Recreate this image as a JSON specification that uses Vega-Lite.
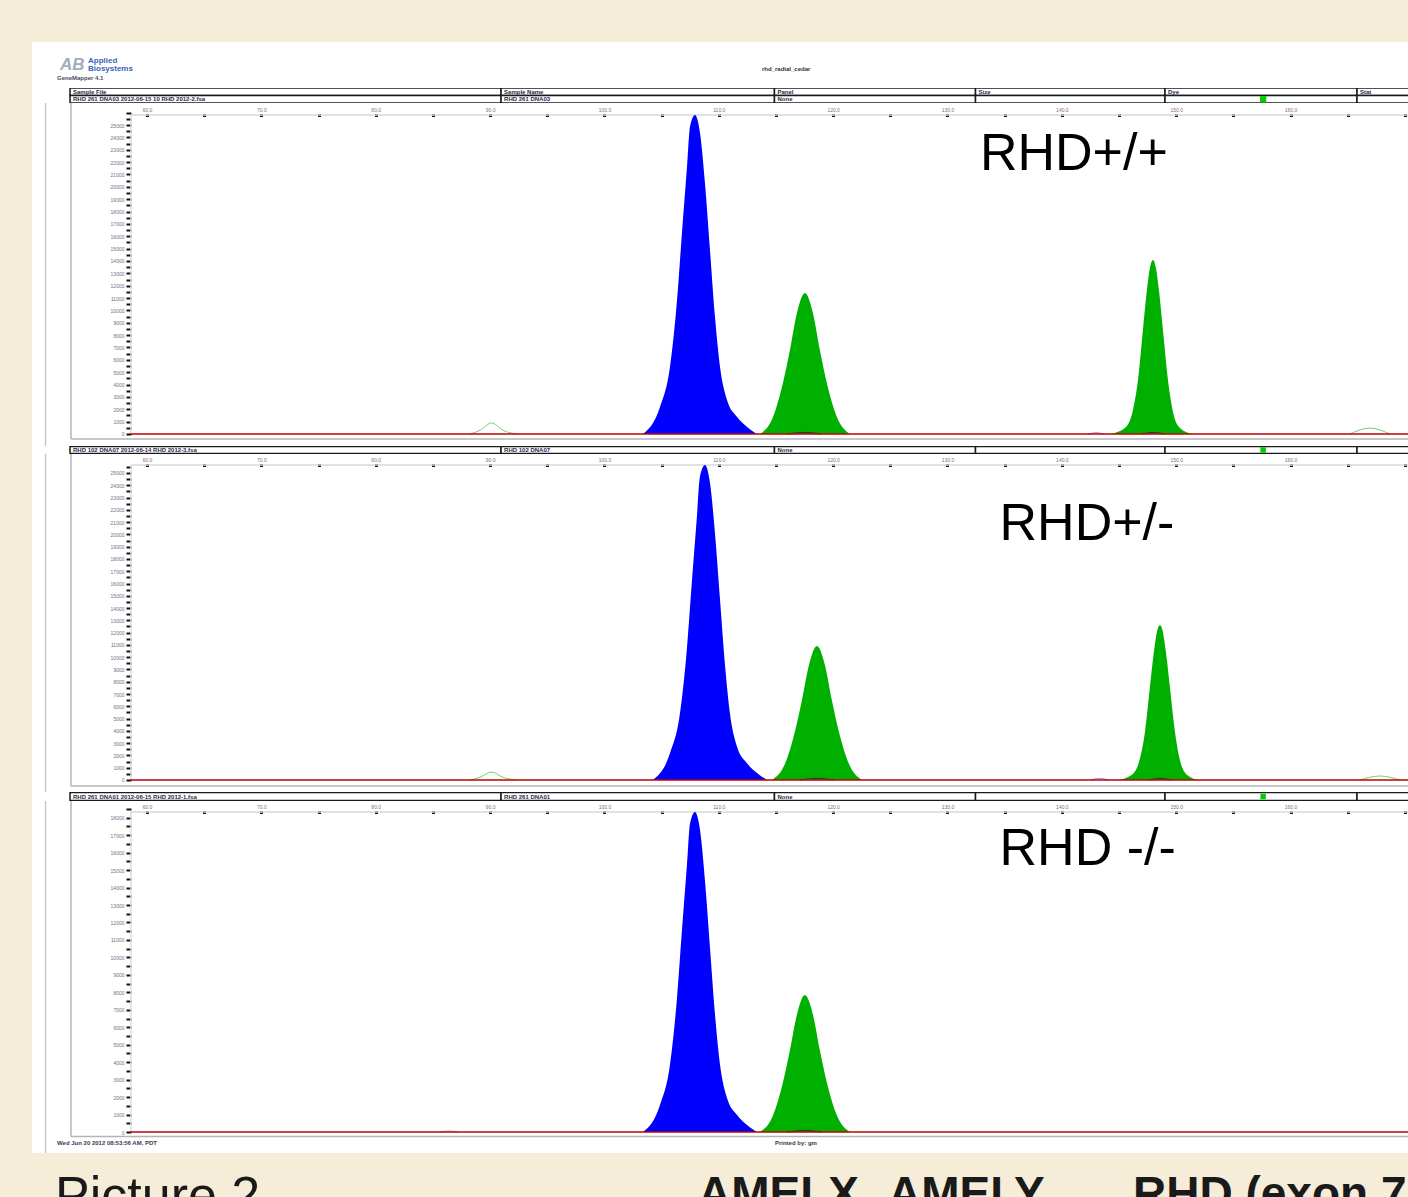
{
  "$schema": "https://vega.github.io/schema/vega-lite/v6.json",
  "background": "#F5EDD8",
  "padding": {"left": 32, "top": 42, "right": 0, "bottom": 0},
  "spacing": 0,
  "bounds": "flush",
  "config": {
    "view": {"stroke": null, "fill": "white"},
    "font": "Liberation Sans",
    "axis": {"labelFont": "Liberation Sans", "grid": false, "title": null}
  },
  "datasets": {
    "p1": [
      {"pk": "b", "dye": "blue", "bp": 103.37, "rfu": 0},
      {"pk": "b", "dye": "blue", "bp": 104.86, "rfu": 2184},
      {"pk": "b", "dye": "blue", "bp": 105.73, "rfu": 5420},
      {"pk": "b", "dye": "blue", "bp": 106.35, "rfu": 10840},
      {"pk": "b", "dye": "blue", "bp": 106.78, "rfu": 16260},
      {"pk": "b", "dye": "blue", "bp": 107.22, "rfu": 21600},
      {"pk": "b", "dye": "blue", "bp": 107.48, "rfu": 24836},
      {"pk": "b", "dye": "blue", "bp": 107.92, "rfu": 25807},
      {"pk": "b", "dye": "blue", "bp": 108.36, "rfu": 24350},
      {"pk": "b", "dye": "blue", "bp": 108.79, "rfu": 20306},
      {"pk": "b", "dye": "blue", "bp": 109.23, "rfu": 14886},
      {"pk": "b", "dye": "blue", "bp": 109.67, "rfu": 9465},
      {"pk": "b", "dye": "blue", "bp": 110.11, "rfu": 5420},
      {"pk": "b", "dye": "blue", "bp": 110.72, "rfu": 2750},
      {"pk": "b", "dye": "blue", "bp": 111.60, "rfu": 1375},
      {"pk": "b", "dye": "blue", "bp": 112.47, "rfu": 566},
      {"pk": "b", "dye": "blue", "bp": 113.34, "rfu": 0},
      {"pk": "g1", "dye": "green", "bp": 113.60, "rfu": 0},
      {"pk": "g1", "dye": "green", "bp": 114.74, "rfu": 1375},
      {"pk": "g1", "dye": "green", "bp": 115.61, "rfu": 4126},
      {"pk": "g1", "dye": "green", "bp": 116.22, "rfu": 6796},
      {"pk": "g1", "dye": "green", "bp": 116.84, "rfu": 9789},
      {"pk": "g1", "dye": "green", "bp": 117.53, "rfu": 11407},
      {"pk": "g1", "dye": "green", "bp": 118.23, "rfu": 9789},
      {"pk": "g1", "dye": "green", "bp": 118.84, "rfu": 6796},
      {"pk": "g1", "dye": "green", "bp": 119.45, "rfu": 4126},
      {"pk": "g1", "dye": "green", "bp": 120.33, "rfu": 1375},
      {"pk": "g1", "dye": "green", "bp": 121.46, "rfu": 0},
      {"pk": "g2", "dye": "green", "bp": 144.21, "rfu": 0},
      {"pk": "g2", "dye": "green", "bp": 145.52, "rfu": 485},
      {"pk": "g2", "dye": "green", "bp": 146.22, "rfu": 1942},
      {"pk": "g2", "dye": "green", "bp": 146.66, "rfu": 4369},
      {"pk": "g2", "dye": "green", "bp": 147.09, "rfu": 8414},
      {"pk": "g2", "dye": "green", "bp": 147.44, "rfu": 11650},
      {"pk": "g2", "dye": "green", "bp": 147.70, "rfu": 13430},
      {"pk": "g2", "dye": "green", "bp": 147.97, "rfu": 14077},
      {"pk": "g2", "dye": "green", "bp": 148.23, "rfu": 13430},
      {"pk": "g2", "dye": "green", "bp": 148.49, "rfu": 11650},
      {"pk": "g2", "dye": "green", "bp": 148.84, "rfu": 8414},
      {"pk": "g2", "dye": "green", "bp": 149.28, "rfu": 4369},
      {"pk": "g2", "dye": "green", "bp": 149.72, "rfu": 1780},
      {"pk": "g2", "dye": "green", "bp": 150.33, "rfu": 485},
      {"pk": "g2", "dye": "green", "bp": 151.38, "rfu": 0}
    ],
    "b1": [
      {"pk": "t1", "dye": "lgreen", "bp": 88.24, "rfu": 0},
      {"pk": "t1", "dye": "lgreen", "bp": 89.12, "rfu": 300},
      {"pk": "t1", "dye": "lgreen", "bp": 90.14, "rfu": 900},
      {"pk": "t1", "dye": "lgreen", "bp": 91.13, "rfu": 300},
      {"pk": "t1", "dye": "lgreen", "bp": 92.35, "rfu": 0},
      {"pk": "t2", "dye": "lgreen", "bp": 165.19, "rfu": 0},
      {"pk": "t2", "dye": "lgreen", "bp": 166.94, "rfu": 480},
      {"pk": "t2", "dye": "lgreen", "bp": 168.69, "rfu": 0},
      {"pk": "t3", "dye": "lblue", "bp": 142.3, "rfu": 0},
      {"pk": "t3", "dye": "lblue", "bp": 143.0, "rfu": 100},
      {"pk": "t3", "dye": "lblue", "bp": 143.7, "rfu": 0},
      {"pk": "t4", "dye": "black", "bp": 116.0, "rfu": 0},
      {"pk": "t4", "dye": "black", "bp": 117.53, "rfu": 130},
      {"pk": "t4", "dye": "black", "bp": 119.0, "rfu": 0},
      {"pk": "t5", "dye": "black", "bp": 147.0, "rfu": 0},
      {"pk": "t5", "dye": "black", "bp": 147.97, "rfu": 130},
      {"pk": "t5", "dye": "black", "bp": 149.0, "rfu": 0}
    ],
    "p2": [
      {"pk": "b", "dye": "blue", "bp": 104.24, "rfu": 0},
      {"pk": "b", "dye": "blue", "bp": 105.73, "rfu": 2171},
      {"pk": "b", "dye": "blue", "bp": 106.60, "rfu": 5387},
      {"pk": "b", "dye": "blue", "bp": 107.22, "rfu": 10774},
      {"pk": "b", "dye": "blue", "bp": 107.65, "rfu": 16161},
      {"pk": "b", "dye": "blue", "bp": 108.09, "rfu": 21468},
      {"pk": "b", "dye": "blue", "bp": 108.35, "rfu": 24685},
      {"pk": "b", "dye": "blue", "bp": 108.79, "rfu": 25650},
      {"pk": "b", "dye": "blue", "bp": 109.23, "rfu": 24202},
      {"pk": "b", "dye": "blue", "bp": 109.66, "rfu": 20182},
      {"pk": "b", "dye": "blue", "bp": 110.10, "rfu": 14795},
      {"pk": "b", "dye": "blue", "bp": 110.54, "rfu": 9407},
      {"pk": "b", "dye": "blue", "bp": 110.98, "rfu": 5387},
      {"pk": "b", "dye": "blue", "bp": 111.59, "rfu": 2733},
      {"pk": "b", "dye": "blue", "bp": 112.47, "rfu": 1367},
      {"pk": "b", "dye": "blue", "bp": 113.34, "rfu": 563},
      {"pk": "b", "dye": "blue", "bp": 114.21, "rfu": 0},
      {"pk": "g1", "dye": "green", "bp": 114.65, "rfu": 0},
      {"pk": "g1", "dye": "green", "bp": 115.79, "rfu": 1315},
      {"pk": "g1", "dye": "green", "bp": 116.66, "rfu": 3947},
      {"pk": "g1", "dye": "green", "bp": 117.27, "rfu": 6501},
      {"pk": "g1", "dye": "green", "bp": 117.89, "rfu": 9364},
      {"pk": "g1", "dye": "green", "bp": 118.58, "rfu": 10912},
      {"pk": "g1", "dye": "green", "bp": 119.28, "rfu": 9364},
      {"pk": "g1", "dye": "green", "bp": 119.89, "rfu": 6501},
      {"pk": "g1", "dye": "green", "bp": 120.50, "rfu": 3947},
      {"pk": "g1", "dye": "green", "bp": 121.38, "rfu": 1315},
      {"pk": "g1", "dye": "green", "bp": 122.51, "rfu": 0},
      {"pk": "g2", "dye": "green", "bp": 144.82, "rfu": 0},
      {"pk": "g2", "dye": "green", "bp": 146.13, "rfu": 435},
      {"pk": "g2", "dye": "green", "bp": 146.83, "rfu": 1741},
      {"pk": "g2", "dye": "green", "bp": 147.27, "rfu": 3917},
      {"pk": "g2", "dye": "green", "bp": 147.70, "rfu": 7544},
      {"pk": "g2", "dye": "green", "bp": 148.05, "rfu": 10445},
      {"pk": "g2", "dye": "green", "bp": 148.31, "rfu": 12041},
      {"pk": "g2", "dye": "green", "bp": 148.58, "rfu": 12622},
      {"pk": "g2", "dye": "green", "bp": 148.84, "rfu": 12041},
      {"pk": "g2", "dye": "green", "bp": 149.10, "rfu": 10445},
      {"pk": "g2", "dye": "green", "bp": 149.45, "rfu": 7544},
      {"pk": "g2", "dye": "green", "bp": 149.89, "rfu": 3917},
      {"pk": "g2", "dye": "green", "bp": 150.33, "rfu": 1596},
      {"pk": "g2", "dye": "green", "bp": 150.94, "rfu": 435},
      {"pk": "g2", "dye": "green", "bp": 151.99, "rfu": 0}
    ],
    "b2": [
      {"pk": "t1", "dye": "lgreen", "bp": 88.24, "rfu": 0},
      {"pk": "t1", "dye": "lgreen", "bp": 89.12, "rfu": 220},
      {"pk": "t1", "dye": "lgreen", "bp": 90.14, "rfu": 650},
      {"pk": "t1", "dye": "lgreen", "bp": 91.13, "rfu": 220},
      {"pk": "t1", "dye": "lgreen", "bp": 92.35, "rfu": 0},
      {"pk": "t2", "dye": "lgreen", "bp": 166.06, "rfu": 0},
      {"pk": "t2", "dye": "lgreen", "bp": 167.81, "rfu": 325},
      {"pk": "t2", "dye": "lgreen", "bp": 169.56, "rfu": 0},
      {"pk": "t3", "dye": "lblue", "bp": 142.5, "rfu": 0},
      {"pk": "t3", "dye": "lblue", "bp": 143.3, "rfu": 120},
      {"pk": "t3", "dye": "lblue", "bp": 144.1, "rfu": 0},
      {"pk": "t4", "dye": "black", "bp": 117.1, "rfu": 0},
      {"pk": "t4", "dye": "black", "bp": 118.58, "rfu": 130},
      {"pk": "t4", "dye": "black", "bp": 120.0, "rfu": 0},
      {"pk": "t5", "dye": "black", "bp": 147.6, "rfu": 0},
      {"pk": "t5", "dye": "black", "bp": 148.58, "rfu": 130},
      {"pk": "t5", "dye": "black", "bp": 149.6, "rfu": 0}
    ],
    "p3": [
      {"pk": "b", "dye": "blue", "bp": 103.37, "rfu": 0},
      {"pk": "b", "dye": "blue", "bp": 104.86, "rfu": 1551},
      {"pk": "b", "dye": "blue", "bp": 105.73, "rfu": 3849},
      {"pk": "b", "dye": "blue", "bp": 106.35, "rfu": 7698},
      {"pk": "b", "dye": "blue", "bp": 106.78, "rfu": 11547},
      {"pk": "b", "dye": "blue", "bp": 107.22, "rfu": 15339},
      {"pk": "b", "dye": "blue", "bp": 107.48, "rfu": 17637},
      {"pk": "b", "dye": "blue", "bp": 107.92, "rfu": 18326},
      {"pk": "b", "dye": "blue", "bp": 108.36, "rfu": 17292},
      {"pk": "b", "dye": "blue", "bp": 108.79, "rfu": 14420},
      {"pk": "b", "dye": "blue", "bp": 109.23, "rfu": 10571},
      {"pk": "b", "dye": "blue", "bp": 109.67, "rfu": 6722},
      {"pk": "b", "dye": "blue", "bp": 110.11, "rfu": 3849},
      {"pk": "b", "dye": "blue", "bp": 110.72, "rfu": 1953},
      {"pk": "b", "dye": "blue", "bp": 111.60, "rfu": 977},
      {"pk": "b", "dye": "blue", "bp": 112.47, "rfu": 402},
      {"pk": "b", "dye": "blue", "bp": 113.34, "rfu": 0},
      {"pk": "g1", "dye": "green", "bp": 113.60, "rfu": 0},
      {"pk": "g1", "dye": "green", "bp": 114.74, "rfu": 946},
      {"pk": "g1", "dye": "green", "bp": 115.61, "rfu": 2838},
      {"pk": "g1", "dye": "green", "bp": 116.22, "rfu": 4675},
      {"pk": "g1", "dye": "green", "bp": 116.84, "rfu": 6734},
      {"pk": "g1", "dye": "green", "bp": 117.53, "rfu": 7846},
      {"pk": "g1", "dye": "green", "bp": 118.23, "rfu": 6734},
      {"pk": "g1", "dye": "green", "bp": 118.84, "rfu": 4675},
      {"pk": "g1", "dye": "green", "bp": 119.45, "rfu": 2838},
      {"pk": "g1", "dye": "green", "bp": 120.33, "rfu": 946},
      {"pk": "g1", "dye": "green", "bp": 121.46, "rfu": 0}
    ],
    "b3": [
      {"pk": "t1", "dye": "gray", "bp": 85.6, "rfu": 0},
      {"pk": "t1", "dye": "gray", "bp": 86.4, "rfu": 60},
      {"pk": "t1", "dye": "gray", "bp": 87.2, "rfu": 0},
      {"pk": "t4", "dye": "black", "bp": 116.0, "rfu": 0},
      {"pk": "t4", "dye": "black", "bp": 117.53, "rfu": 90},
      {"pk": "t4", "dye": "black", "bp": 119.0, "rfu": 0}
    ],
    "h1": [
      {"row": "label", "start": 53.27, "end": 90.96, "t": "Sample File"},
      {"row": "label", "start": 90.96, "end": 114.87, "t": "Sample Name"},
      {"row": "label", "start": 114.87, "end": 132.45, "t": "Panel"},
      {"row": "label", "start": 132.45, "end": 149.02, "t": "Size"},
      {"row": "label", "start": 149.02, "end": 165.81, "t": "Dye"},
      {"row": "label", "start": 165.81, "end": 172, "t": "Stat"},
      {"row": "value", "start": 53.27, "end": 90.96, "t": "RHD 261 DNA03 2012-06-15 10 RHD 2012-2.fsa"},
      {"row": "value", "start": 90.96, "end": 114.87, "t": "RHD 261 DNA03"},
      {"row": "value", "start": 114.87, "end": 132.45, "t": "None"},
      {"row": "value", "start": 132.45, "end": 149.02, "t": ""},
      {"row": "value", "start": 149.02, "end": 165.81, "t": ""},
      {"row": "value", "start": 165.81, "end": 172, "t": ""}
    ],
    "h2": [
      {"row": "value", "start": 53.27, "end": 90.96, "t": "RHD 102 DNA07 2012-06-14 RHD 2012-3.fsa"},
      {"row": "value", "start": 90.96, "end": 114.87, "t": "RHD 102 DNA07"},
      {"row": "value", "start": 114.87, "end": 132.45, "t": "None"},
      {"row": "value", "start": 132.45, "end": 149.02, "t": ""},
      {"row": "value", "start": 149.02, "end": 165.81, "t": ""},
      {"row": "value", "start": 165.81, "end": 172, "t": ""}
    ],
    "h3": [
      {"row": "value", "start": 53.27, "end": 90.96, "t": "RHD 261 DNA01 2012-06-15 RHD 2012-1.fsa"},
      {"row": "value", "start": 90.96, "end": 114.87, "t": "RHD 261 DNA01"},
      {"row": "value", "start": 114.87, "end": 132.45, "t": "None"},
      {"row": "value", "start": 132.45, "end": 149.02, "t": ""},
      {"row": "value", "start": 149.02, "end": 165.81, "t": ""},
      {"row": "value", "start": 165.81, "end": 172, "t": ""}
    ],
    "v1": [
      {"kind": "frame", "bp": 51.13, "rfu": -970.9, "rfu2": 26780},
      {"kind": "box", "bp": 53.35, "rfu": -405, "rfu2": 26780},
      {"kind": "yband", "bp": 58.6, "rfu": 0, "rfu2": 25809}
    ],
    "r1": [
      {"kind": "box", "bp": 53.35, "bp2": 172, "rfu": -405},
      {"kind": "xband", "bp": 58.6, "bp2": 172, "rfu": 25809}
    ],
    "v2": [
      {"kind": "frame", "bp": 51.13, "rfu": -977.2, "rfu2": 26547},
      {"kind": "box", "bp": 53.35, "rfu": -489, "rfu2": 26547},
      {"kind": "yband", "bp": 58.6, "rfu": 0, "rfu2": 25651}
    ],
    "r2": [
      {"kind": "box", "bp": 53.35, "bp2": 172, "rfu": -489},
      {"kind": "xband", "bp": 58.6, "bp2": 172, "rfu": 25651}
    ],
    "v3": [
      {"kind": "frame", "bp": 51.13, "rfu": -343.6, "rfu2": 18956},
      {"kind": "box", "bp": 53.35, "rfu": -258, "rfu2": 18956},
      {"kind": "yband", "bp": 58.6, "rfu": 0, "rfu2": 18326}
    ],
    "r3": [
      {"kind": "box", "bp": 53.35, "bp2": 172, "rfu": -258},
      {"kind": "xband", "bp": 58.6, "bp2": 172, "rfu": 18326}
    ]
  },
  "vconcat": [
    {
      "width": 1376,
      "height": 46,
      "encoding": {
        "x": {"field": "bp", "type": "quantitative", "scale": {"domain": [49.944, 170.27], "nice": false, "zero": false}, "axis": null},
        "text": {"field": "t"}
      },
      "layer": [
        {"data": {"values": [{"t": "AB", "bp": 52.4}]}, "mark": {"type": "text", "align": "left", "baseline": "middle", "fontSize": 17, "fontWeight": "bold", "fontStyle": "italic", "color": "#a3acba", "dy": 0}},
        {"data": {"values": [{"t": "Applied", "bp": 54.84}]}, "mark": {"type": "text", "align": "left", "baseline": "middle", "fontSize": 8, "fontWeight": "bold", "color": "#3a62c0", "dy": -4}},
        {"data": {"values": [{"t": "Biosystems", "bp": 54.84}]}, "mark": {"type": "text", "align": "left", "baseline": "middle", "fontSize": 8, "fontWeight": "bold", "color": "#3a62c0", "dy": 4}},
        {"data": {"values": [{"t": "GeneMapper 4.1", "bp": 52.13}]}, "mark": {"type": "text", "align": "left", "baseline": "middle", "fontSize": 6, "fontWeight": "bold", "color": "#4a4a60", "dy": 13}},
        {"data": {"values": [{"t": "rhd_radial_cedar", "bp": 113.78}]}, "mark": {"type": "text", "align": "left", "baseline": "middle", "fontSize": 6, "fontWeight": "bold", "color": "#303040", "dy": 4}}
      ]
    },
    {
      "width": 1376,
      "height": 15,
      "data": {"name": "h1"},
      "encoding": {
        "x": {"field": "start", "type": "quantitative", "scale": {"domain": [49.944, 170.27], "nice": false, "zero": false}, "axis": null},
        "y": {"field": "row", "type": "nominal", "scale": {"domain": ["label", "value"], "paddingInner": 0, "paddingOuter": 0}, "axis": null}
      },
      "layer": [
        {"mark": {"type": "rect", "fill": "white", "stroke": "#1a1a1a", "strokeWidth": 1.5, "clip": true}, "encoding": {"x2": {"field": "end"}}},
        {"mark": {"type": "text", "align": "left", "baseline": "middle", "dx": 3, "fontSize": 6, "fontWeight": "bold", "color": "#2a2a48", "clip": true}, "encoding": {"text": {"field": "t"}}},
        {"data": {"values": [{"start": 157.6, "row": "value"}]}, "mark": {"type": "square", "color": "#00cc00", "size": 40, "opacity": 1}}
      ]
    },
    {
      "width": 1376,
      "height": 343,
      "encoding": {
        "x": {"field": "bp", "type": "quantitative", "scale": {"domain": [49.944, 170.27], "nice": false, "zero": false},
          "axis": {"orient": "top", "offset": -13.5, "domain": false, "values": [60,65,70,75,80,85,90,95,100,105,110,115,120,125,130,135,140,145,150,155,160,165,170], "labelExpr": "datum.value % 10 === 0 && datum.value < 170 ? format(datum.value, '.1f') : ''", "tickColor": "#111", "tickWidth": 3, "tickSize": 3, "labelFontSize": 5, "labelColor": "#8a6a7a", "labelPadding": 1}},
        "y": {"field": "rfu", "type": "quantitative", "stack": null, "scale": {"domain": [-970.9, 26780], "nice": false, "zero": false},
          "axis": {"orient": "left", "offset": -99, "domain": false, "values": [0,500,1000,1500,2000,2500,3000,3500,4000,4500,5000,5500,6000,6500,7000,7500,8000,8500,9000,9500,10000,10500,11000,11500,12000,12500,13000,13500,14000,14500,15000,15500,16000,16500,17000,17500,18000,18500,19000,19500,20000,20500,21000,21500,22000,22500,23000,23500,24000,24500,25000,25500,26000], "labelExpr": "datum.value % 1000 === 0 && datum.value <= 25000 ? format(datum.value, 'd') : ''", "tickColor": "#111", "tickWidth": 2, "tickSize": 5, "labelFontSize": 5, "labelColor": "#7a6a80", "labelPadding": 2}}
      },
      "layer": [
        {"data": {"name": "v1"}, "mark": {"type": "rule", "clip": true},
          "encoding": {"y2": {"field": "rfu2"}, "color": {"field": "kind", "type": "nominal", "scale": {"domain": ["frame", "box", "yband", "xband"], "range": ["#c8c8c8", "#b4b4b4", "#dadada", "#d8d8d8"]}, "legend": null}, "strokeWidth": {"field": "kind", "type": "nominal", "scale": {"domain": ["frame", "box", "yband", "xband"], "range": [1.5, 1.5, 3, 4]}, "legend": null}}},
        {"data": {"name": "r1"}, "mark": {"type": "rule", "clip": true},
          "encoding": {"x2": {"field": "bp2"}, "color": {"field": "kind", "type": "nominal", "scale": {"domain": ["frame", "box", "yband", "xband"], "range": ["#c8c8c8", "#b4b4b4", "#dadada", "#d8d8d8"]}, "legend": null}, "strokeWidth": {"field": "kind", "type": "nominal", "scale": {"domain": ["frame", "box", "yband", "xband"], "range": [1.5, 1.5, 3, 4]}, "legend": null}}},
        {"data": {"name": "p1"}, "mark": {"type": "area", "interpolate": "monotone"},
          "encoding": {"detail": {"field": "pk"}, "fill": {"field": "dye", "type": "nominal", "scale": {"domain": ["blue", "green", "lgreen", "lblue", "black", "gray"], "range": ["#0000ff", "#00b000", "#6fd06f", "#7a7aff", "#303030", "#a8a8a8"]}, "legend": null}}},
        {"data": {"name": "b1"}, "mark": {"type": "line", "interpolate": "monotone", "strokeWidth": 1},
          "encoding": {"detail": {"field": "pk"}, "stroke": {"field": "dye", "type": "nominal", "scale": {"domain": ["blue", "green", "lgreen", "lblue", "black", "gray"], "range": ["#0000ff", "#00b000", "#6fd06f", "#7a7aff", "#303030", "#a8a8a8"]}, "legend": null}}},
        {"data": {"values": [{"bp": 58.51, "bp2": 172, "rfu": 0}]}, "mark": {"type": "rule", "color": "#c00000", "strokeWidth": 1.5, "clip": true}, "encoding": {"x2": {"field": "bp2"}}},
        {"data": {"values": [{"label": "RHD+/+", "bp": 132.84, "rfu": 21360}]}, "mark": {"type": "text", "align": "left", "baseline": "alphabetic", "fontSize": 52, "color": "#000000"}, "encoding": {"text": {"field": "label"}}}
      ]
    },
    {
      "width": 1376,
      "height": 8,
      "data": {"name": "h2"},
      "encoding": {
        "x": {"field": "start", "type": "quantitative", "scale": {"domain": [49.944, 170.27], "nice": false, "zero": false}, "axis": null},
        "y": {"field": "row", "type": "nominal", "scale": {"domain": ["value"], "paddingInner": 0, "paddingOuter": 0.06}, "axis": null}
      },
      "layer": [
        {"mark": {"type": "rect", "fill": "white", "stroke": "#1a1a1a", "strokeWidth": 1.5, "clip": true}, "encoding": {"x2": {"field": "end"}}},
        {"mark": {"type": "text", "align": "left", "baseline": "middle", "dx": 3, "fontSize": 6, "fontWeight": "bold", "color": "#2a2a48", "clip": true}, "encoding": {"text": {"field": "t"}}},
        {"data": {"values": [{"start": 157.6, "row": "value"}]}, "mark": {"type": "square", "color": "#00cc00", "size": 30, "opacity": 1}}
      ]
    },
    {
      "width": 1376,
      "height": 338,
      "encoding": {
        "x": {"field": "bp", "type": "quantitative", "scale": {"domain": [49.944, 170.27], "nice": false, "zero": false},
          "axis": {"orient": "top", "offset": -12.5, "domain": false, "values": [60,65,70,75,80,85,90,95,100,105,110,115,120,125,130,135,140,145,150,155,160,165,170], "labelExpr": "datum.value % 10 === 0 && datum.value < 170 ? format(datum.value, '.1f') : ''", "tickColor": "#111", "tickWidth": 3, "tickSize": 3, "labelFontSize": 5, "labelColor": "#8a6a7a", "labelPadding": 1}},
        "y": {"field": "rfu", "type": "quantitative", "stack": null, "scale": {"domain": [-977.2, 26547], "nice": false, "zero": false},
          "axis": {"orient": "left", "offset": -99, "domain": false, "values": [0,500,1000,1500,2000,2500,3000,3500,4000,4500,5000,5500,6000,6500,7000,7500,8000,8500,9000,9500,10000,10500,11000,11500,12000,12500,13000,13500,14000,14500,15000,15500,16000,16500,17000,17500,18000,18500,19000,19500,20000,20500,21000,21500,22000,22500,23000,23500,24000,24500,25000,25500], "labelExpr": "datum.value % 1000 === 0 && datum.value <= 25000 ? format(datum.value, 'd') : ''", "tickColor": "#111", "tickWidth": 2, "tickSize": 5, "labelFontSize": 5, "labelColor": "#7a6a80", "labelPadding": 2}}
      },
      "layer": [
        {"data": {"name": "v2"}, "mark": {"type": "rule", "clip": true},
          "encoding": {"y2": {"field": "rfu2"}, "color": {"field": "kind", "type": "nominal", "scale": {"domain": ["frame", "box", "yband", "xband"], "range": ["#c8c8c8", "#b4b4b4", "#dadada", "#d8d8d8"]}, "legend": null}, "strokeWidth": {"field": "kind", "type": "nominal", "scale": {"domain": ["frame", "box", "yband", "xband"], "range": [1.5, 1.5, 3, 4]}, "legend": null}}},
        {"data": {"name": "r2"}, "mark": {"type": "rule", "clip": true},
          "encoding": {"x2": {"field": "bp2"}, "color": {"field": "kind", "type": "nominal", "scale": {"domain": ["frame", "box", "yband", "xband"], "range": ["#c8c8c8", "#b4b4b4", "#dadada", "#d8d8d8"]}, "legend": null}, "strokeWidth": {"field": "kind", "type": "nominal", "scale": {"domain": ["frame", "box", "yband", "xband"], "range": [1.5, 1.5, 3, 4]}, "legend": null}}},
        {"data": {"name": "p2"}, "mark": {"type": "area", "interpolate": "monotone"},
          "encoding": {"detail": {"field": "pk"}, "fill": {"field": "dye", "type": "nominal", "scale": {"domain": ["blue", "green", "lgreen", "lblue", "black", "gray"], "range": ["#0000ff", "#00b000", "#6fd06f", "#7a7aff", "#303030", "#a8a8a8"]}, "legend": null}}},
        {"data": {"name": "b2"}, "mark": {"type": "line", "interpolate": "monotone", "strokeWidth": 1},
          "encoding": {"detail": {"field": "pk"}, "stroke": {"field": "dye", "type": "nominal", "scale": {"domain": ["blue", "green", "lgreen", "lblue", "black", "gray"], "range": ["#0000ff", "#00b000", "#6fd06f", "#7a7aff", "#303030", "#a8a8a8"]}, "legend": null}}},
        {"data": {"values": [{"bp": 58.51, "bp2": 172, "rfu": 0}]}, "mark": {"type": "rule", "color": "#c00000", "strokeWidth": 1.5, "clip": true}, "encoding": {"x2": {"field": "bp2"}}},
        {"data": {"values": [{"label": "RHD+/-", "bp": 134.55, "rfu": 19544}]}, "mark": {"type": "text", "align": "left", "baseline": "alphabetic", "fontSize": 52, "color": "#000000"}, "encoding": {"text": {"field": "label"}}}
      ]
    },
    {
      "width": 1376,
      "height": 9,
      "data": {"name": "h3"},
      "encoding": {
        "x": {"field": "start", "type": "quantitative", "scale": {"domain": [49.944, 170.27], "nice": false, "zero": false}, "axis": null},
        "y": {"field": "row", "type": "nominal", "scale": {"domain": ["value"], "paddingInner": 0, "paddingOuter": 0.06}, "axis": null}
      },
      "layer": [
        {"mark": {"type": "rect", "fill": "white", "stroke": "#1a1a1a", "strokeWidth": 1.5, "clip": true}, "encoding": {"x2": {"field": "end"}}},
        {"mark": {"type": "text", "align": "left", "baseline": "middle", "dx": 3, "fontSize": 6, "fontWeight": "bold", "color": "#2a2a48", "clip": true}, "encoding": {"text": {"field": "t"}}},
        {"data": {"values": [{"start": 157.6, "row": "value"}]}, "mark": {"type": "square", "color": "#00cc00", "size": 30, "opacity": 1}}
      ]
    },
    {
      "width": 1376,
      "height": 337,
      "encoding": {
        "x": {"field": "bp", "type": "quantitative", "scale": {"domain": [49.944, 170.27], "nice": false, "zero": false},
          "axis": {"orient": "top", "offset": -12.5, "domain": false, "values": [60,65,70,75,80,85,90,95,100,105,110,115,120,125,130,135,140,145,150,155,160,165,170], "labelExpr": "datum.value % 10 === 0 && datum.value < 170 ? format(datum.value, '.1f') : ''", "tickColor": "#111", "tickWidth": 3, "tickSize": 3, "labelFontSize": 5, "labelColor": "#8a6a7a", "labelPadding": 1}},
        "y": {"field": "rfu", "type": "quantitative", "stack": null, "scale": {"domain": [-343.6, 18956], "nice": false, "zero": false},
          "axis": {"orient": "left", "offset": -99, "domain": false, "values": [0,500,1000,1500,2000,2500,3000,3500,4000,4500,5000,5500,6000,6500,7000,7500,8000,8500,9000,9500,10000,10500,11000,11500,12000,12500,13000,13500,14000,14500,15000,15500,16000,16500,17000,17500,18000,18500], "labelExpr": "datum.value % 1000 === 0 && datum.value <= 18000 ? format(datum.value, 'd') : ''", "tickColor": "#111", "tickWidth": 2, "tickSize": 5, "labelFontSize": 5, "labelColor": "#7a6a80", "labelPadding": 2}}
      },
      "layer": [
        {"data": {"name": "v3"}, "mark": {"type": "rule", "clip": true},
          "encoding": {"y2": {"field": "rfu2"}, "color": {"field": "kind", "type": "nominal", "scale": {"domain": ["frame", "box", "yband", "xband"], "range": ["#c8c8c8", "#b4b4b4", "#dadada", "#d8d8d8"]}, "legend": null}, "strokeWidth": {"field": "kind", "type": "nominal", "scale": {"domain": ["frame", "box", "yband", "xband"], "range": [1.5, 1.5, 3, 4]}, "legend": null}}},
        {"data": {"name": "r3"}, "mark": {"type": "rule", "clip": true},
          "encoding": {"x2": {"field": "bp2"}, "color": {"field": "kind", "type": "nominal", "scale": {"domain": ["frame", "box", "yband", "xband"], "range": ["#c8c8c8", "#b4b4b4", "#dadada", "#d8d8d8"]}, "legend": null}, "strokeWidth": {"field": "kind", "type": "nominal", "scale": {"domain": ["frame", "box", "yband", "xband"], "range": [1.5, 1.5, 3, 4]}, "legend": null}}},
        {"data": {"name": "p3"}, "mark": {"type": "area", "interpolate": "monotone"},
          "encoding": {"detail": {"field": "pk"}, "fill": {"field": "dye", "type": "nominal", "scale": {"domain": ["blue", "green", "lgreen", "lblue", "black", "gray"], "range": ["#0000ff", "#00b000", "#6fd06f", "#7a7aff", "#303030", "#a8a8a8"]}, "legend": null}}},
        {"data": {"name": "b3"}, "mark": {"type": "line", "interpolate": "monotone", "strokeWidth": 1},
          "encoding": {"detail": {"field": "pk"}, "stroke": {"field": "dye", "type": "nominal", "scale": {"domain": ["blue", "green", "lgreen", "lblue", "black", "gray"], "range": ["#0000ff", "#00b000", "#6fd06f", "#7a7aff", "#303030", "#a8a8a8"]}, "legend": null}}},
        {"data": {"values": [{"bp": 58.51, "bp2": 172, "rfu": 0}]}, "mark": {"type": "rule", "color": "#c00000", "strokeWidth": 1.5, "clip": true}, "encoding": {"x2": {"field": "bp2"}}},
        {"data": {"values": [{"label": "RHD -/-", "bp": 134.55, "rfu": 15291}]}, "mark": {"type": "text", "align": "left", "baseline": "alphabetic", "fontSize": 52, "color": "#000000"}, "encoding": {"text": {"field": "label"}}}
      ]
    },
    {
      "width": 1376,
      "height": 15,
      "encoding": {
        "x": {"field": "bp", "type": "quantitative", "scale": {"domain": [49.944, 170.27], "nice": false, "zero": false}, "axis": null}
      },
      "layer": [
        {"data": {"values": [{"bp": 51.13}]}, "mark": {"type": "rule", "color": "#c8c8c8", "strokeWidth": 1.5}},
        {"data": {"values": [{"t": "Wed Jun 20 2012 08:53:56 AM, PDT", "bp": 52.13}, {"t": "Printed by: gm", "bp": 114.91}]}, "mark": {"type": "text", "align": "left", "baseline": "middle", "fontSize": 6, "fontWeight": "bold", "color": "#3a3a50", "dy": -3}, "encoding": {"text": {"field": "t"}}}
      ]
    },
    {
      "width": 1376,
      "height": 44,
      "view": {"fill": null, "stroke": null},
      "encoding": {
        "x": {"field": "bp", "type": "quantitative", "scale": {"domain": [49.944, 170.27], "nice": false, "zero": false}, "axis": null},
        "text": {"field": "t"}
      },
      "layer": [
        {"data": {"values": [{"t": "Picture 2", "bp": 51.96}]}, "mark": {"type": "text", "align": "left", "baseline": "alphabetic", "fontSize": 52, "color": "#1a1a1a", "dy": 38, "clip": true}},
        {"data": {"values": [{"t": "AMELX", "bp": 108.18}, {"t": "AMELY", "bp": 124.80}, {"t": "RHD (exon 7", "bp": 146.22}]}, "mark": {"type": "text", "align": "left", "baseline": "alphabetic", "fontSize": 46, "fontWeight": "bold", "color": "#1a1a1a", "dy": 34, "clip": true}}
      ]
    }
  ]
}
